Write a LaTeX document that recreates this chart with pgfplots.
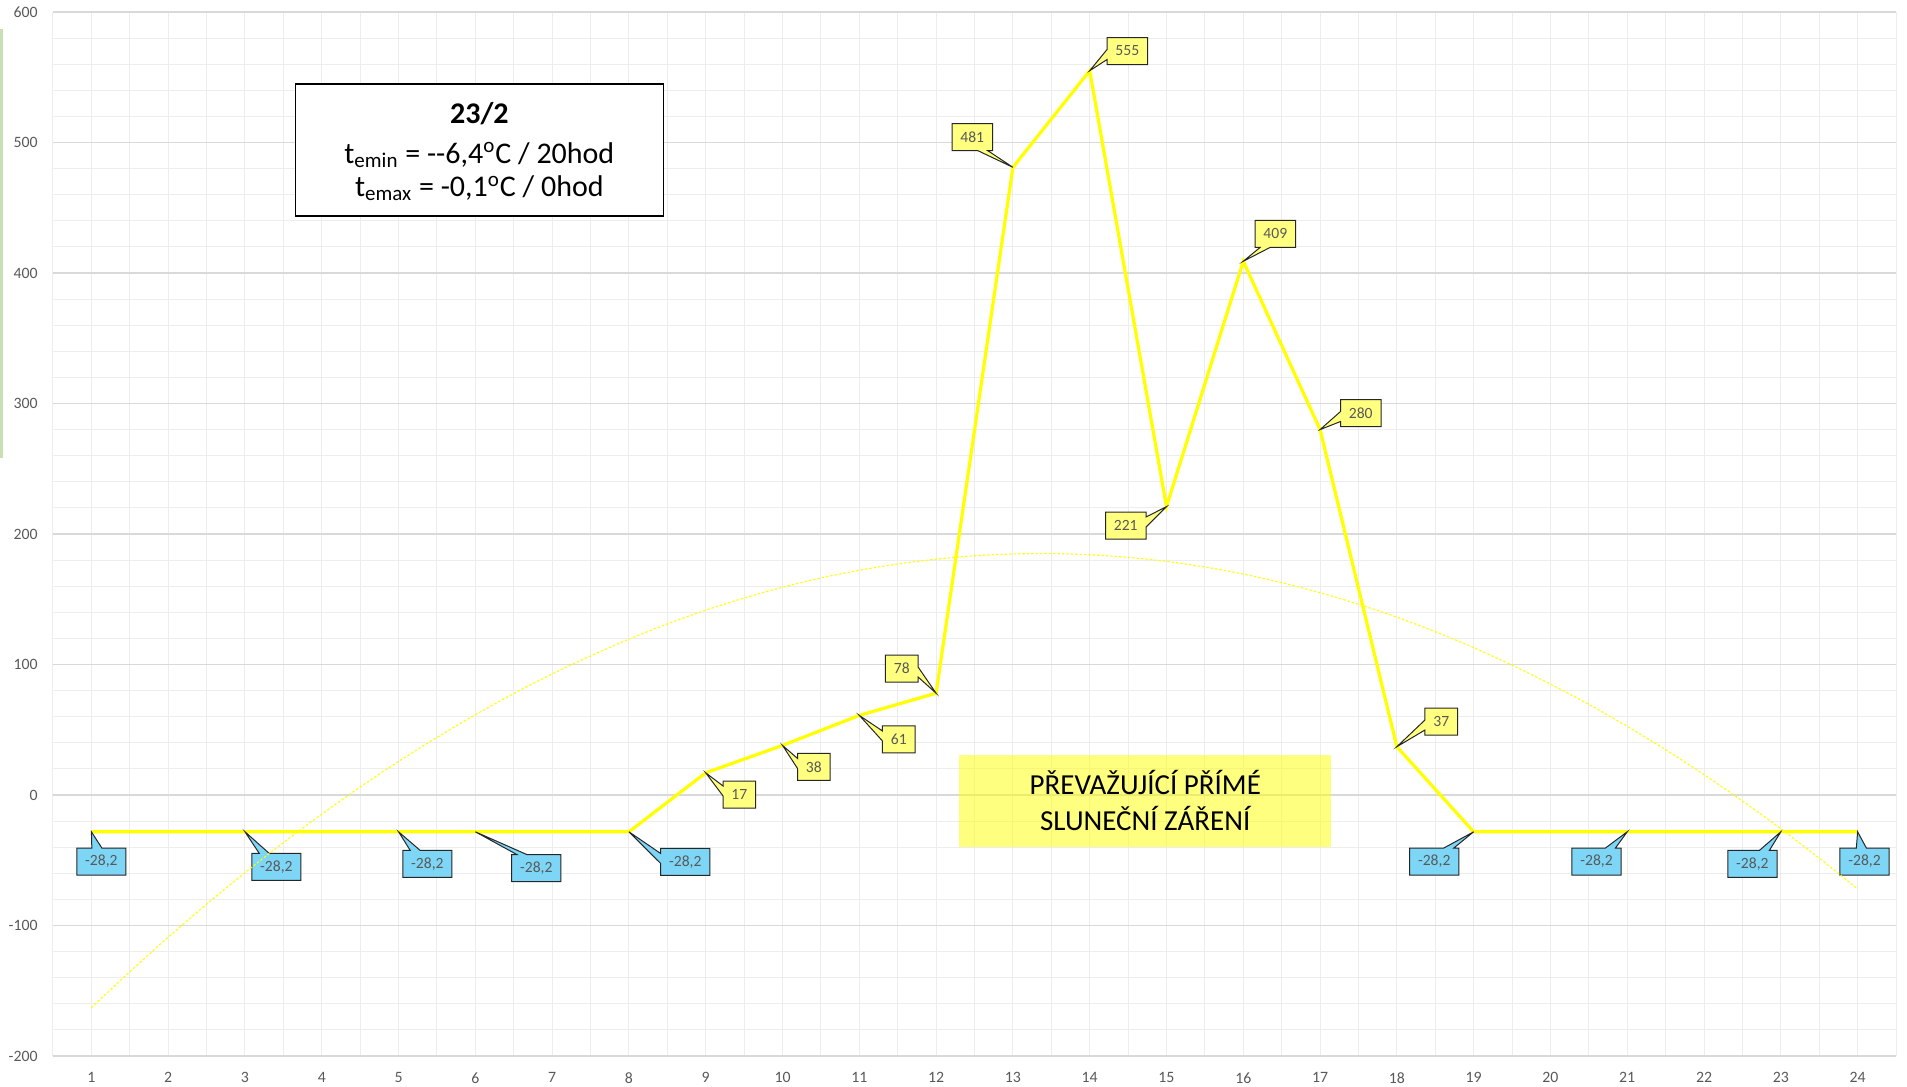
\documentclass[border=0pt]{standalone}
\usepackage{pgfplots}
\usepackage{pgfplotstable}
\pgfplotsset{compat=1.18}
\usetikzlibrary{shapes.callouts}
\usepackage{fontspec}
\setmainfont{Carlito}

\definecolor{gridmaj}{HTML}{D9D9D9}
\definecolor{gridmin}{HTML}{EDEDED}
\definecolor{lblgrey}{HTML}{595959}
\definecolor{calloutblue}{HTML}{7DD6F6}
\definecolor{calloutyellow}{HTML}{FFFF80}
\definecolor{barGreen}{HTML}{C6E0B4}
\definecolor{lineyellow}{HTML}{FFFF00}

\pgfplotstableread{
x y
1 -28.2
2 -28.2
3 -28.2
4 -28.2
5 -28.2
6 -28.2
7 -28.2
8 -28.2
9 17
10 38
11 61
12 78
13 481
14 555
15 221
16 409
17 280
18 37
19 -28.2
20 -28.2
21 -28.2
22 -28.2
23 -28.2
24 -28.2
}\radiation

\pgfplotstableread{
x y
1 -163.0
1.5 -135.4
2 -109.0
2.5 -83.7
3 -59.5
3.5 -36.5
4 -14.7
4.5 6.1
5 25.7
5.5 44.1
6 61.5
6.5 77.7
7 92.7
7.5 106.6
8 119.4
8.5 131.1
9 141.6
9.5 150.9
10 159.2
10.5 166.3
11 172.2
11.5 177.0
12 180.7
12.5 183.3
13 184.7
13.5 185.0
14 184.1
14.5 182.1
15 179.0
15.5 174.7
16 169.3
16.5 162.7
17 155.0
17.5 146.2
18 136.3
18.5 125.2
19 112.9
19.5 99.5
20 85.0
20.5 69.4
21 52.6
21.5 34.7
22 15.6
22.5 -4.6
23 -25.9
23.5 -48.4
24 -72.0
}\trend

\tikzset{
  lab/.style={rectangle callout, draw=black!85, line width=0.5pt,
    text=lblgrey, font=\fontsize{7.8}{9}\selectfont,
    inner xsep=4.2pt, inner ysep=0pt, minimum height=13.5pt,
    callout pointer width=5pt},
  blab/.style={lab, fill=calloutblue},
  ylab/.style={lab, fill=calloutyellow},
}
\newcommand\blab[5]{\node[blab, callout absolute pointer={(axis cs:#3,#4)}] at (axis cs:#1,#2) {#5};}
\newcommand\ylab[5]{\node[ylab, callout absolute pointer={(axis cs:#3,#4)}] at (axis cs:#1,#2) {#5};}

\begin{document}
\begin{tikzpicture}
\path[use as bounding box] (-26.5pt,-15.5pt) rectangle (927pt,528pt);
\fill[barGreen] (-26.5pt,299pt) rectangle (-25pt,513.5pt);
\begin{axis}[
  at={(0pt,0pt)}, anchor=south west,
  scale only axis, width=921.5pt, height=522pt,
  xmin=0.5, xmax=24.5, ymin=-200, ymax=600,
  clip=false,
  axis line style={draw=none},
  tick style={draw=none},
  xtick={1,...,24},
  minor xtick={0.5,1,...,24.5},
  ytick={-200,-100,...,600},
  yticklabels={-200,-100,0,100,200,300,400,500,600},
  minor ytick={-180,-160,...,580},
  xminorgrids=true, yminorgrids=true, ymajorgrids=true, xmajorgrids=false,
  minor grid style={draw=gridmin, line width=0.5pt},
  major grid style={draw=gridmaj, line width=0.75pt},
  /pgf/number format/assume math mode=true,
  xticklabel style={font=\fontsize{7.9}{9}\selectfont, text=lblgrey, anchor=north, inner sep=0pt, yshift=-8pt},
  yticklabel style={font=\fontsize{7.9}{9}\selectfont, text=lblgrey, anchor=east, inner sep=0pt, xshift=-7.5pt},
]
\addplot[lineyellow, line width=1.6pt, mark=none] table[x=x,y=y] {\radiation};

% data labels
\blab{1.130}{-50.96}{1}{-28.2}{-28,2}
\blab{3.409}{-55.17}{3}{-28.2}{-28,2}
\blab{5.375}{-52.87}{5}{-28.2}{-28,2}
\blab{6.794}{-55.94}{6}{-28.2}{-28,2}
\blab{8.734}{-51.34}{8}{-28.2}{-28,2}
\blab{18.487}{-50.96}{19}{-28.2}{-28,2}
\blab{20.60}{-50.96}{21}{-28.2}{-28,2}
\blab{22.63}{-52.87}{23}{-28.2}{-28,2}
\blab{24.09}{-50.96}{24}{-28.2}{-28,2}
\ylab{9.438}{0.38}{9}{17}{17}
\ylab{10.408}{21.46}{10}{38}{38}
\ylab{11.514}{42.53}{11}{61}{61}
\ylab{11.553}{96.93}{12}{78}{78}
\ylab{12.471}{504.2}{13}{481}{481}
\ylab{14.490}{570.1}{14}{555}{555}
\ylab{14.470}{206.5}{15}{221}{221}
\ylab{16.417}{429.9}{16}{409}{409}
\ylab{17.530}{292.7}{17}{280}{280}
\ylab{18.578}{56.3}{18}{37}{37}

\addplot[lineyellow, line width=0.55pt, dash pattern=on 1.2pt off 1pt, smooth, mark=none] table[x=x,y=y] {\trend};

\node[draw=black, line width=0.6pt, fill=white, minimum width=184pt, minimum height=66pt,
  align=center, font=\fontsize{15}{17.5}\selectfont, inner sep=0pt]
  at (axis cs:6.052,494.25) {};
\node[align=center, font=\fontsize{15}{17}\selectfont, inner sep=0pt]
  at (axis cs:6.052,492.8)
  {\textbf{23/2}\\[2.7pt] t\textsubscript{emin} = -\kern0pt-6,4\textsuperscript{o}C / 20hod\\[-0.4pt] t\textsubscript{emax} = -0,1\textsuperscript{o}C / 0hod};

\node[fill=lineyellow, fill opacity=0.5, text opacity=1, minimum width=186pt, minimum height=46pt,
  align=center, font=\fontsize{14.5}{18}\selectfont, inner sep=0pt]
  at (axis cs:14.724,-4.575) {PŘEVAŽUJÍCÍ PŘÍMÉ\\SLUNEČNÍ ZÁŘENÍ};
\end{axis}
\end{tikzpicture}
\end{document}
